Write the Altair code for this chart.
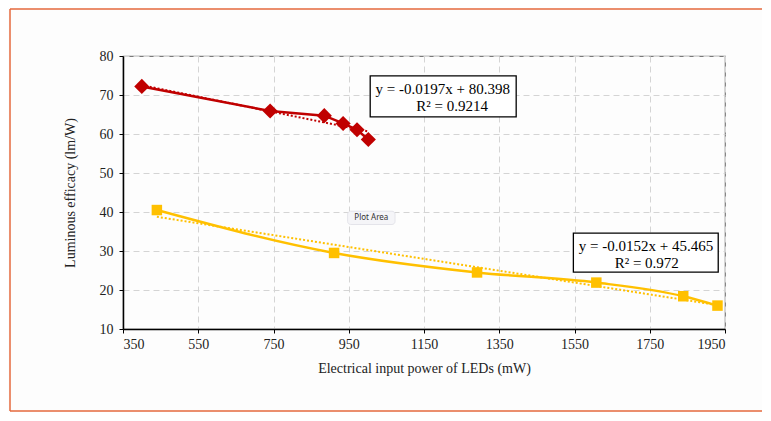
import altair as alt
import pandas as pd

# Data
red_x = [400, 741, 885, 935, 972, 1002]
red_y = [72.2, 65.9, 64.7, 62.7, 61.1, 58.6]
yel_x = [440, 911, 1291, 1608, 1839, 1930]
yel_y = [40.5, 29.5, 24.5, 21.9, 18.4, 16.0]

red_slope, red_icpt = -0.0197, 80.398
yel_slope, yel_icpt = -0.0152, 45.465

red_eq = ["y = -0.0197x + 80.398", "R² = 0.9214"]
yel_eq = ["y = -0.0152x + 45.465", "R² = 0.972"]

x_ticks = [350, 550, 750, 950, 1150, 1350, 1550, 1750, 1950]
y_ticks = [10, 20, 30, 40, 50, 60, 70, 80]

RED = "#C00000"
YEL = "#FFC000"
FONT = "Liberation Serif"

W, H = 602, 273
PL, PT = 115, 48
TOTW, TOTH = 754, 404

red_df = pd.DataFrame({"x": red_x, "y": red_y})
yel_df = pd.DataFrame({"x": yel_x, "y": yel_y})

red_tr = pd.DataFrame({"x": [min(red_x), max(red_x)]})
red_tr["y"] = red_slope * red_tr["x"] + red_icpt
yel_tr = pd.DataFrame({"x": [min(yel_x), max(yel_x)]})
yel_tr["y"] = yel_slope * yel_tr["x"] + yel_icpt

xs = alt.Scale(domain=[350, 1950], nice=False, zero=False)
ys = alt.Scale(domain=[10, 80], nice=False, zero=False)

x_axis = alt.Axis(
    values=x_ticks, title="Electrical input power of LEDs (mW)", format="d",
    grid=True, gridDash=[6, 4], gridColor="#d4d4d4", domainColor="black",
    domainWidth=1.5, tickColor="black", tickSize=4, labelFont=FONT, labelFontSize=14,
    labelColor="#222", titleFont=FONT, titleFontSize=14, titleFontWeight="normal",
    titleColor="#222", labelPadding=4, titlePadding=10, labelOverlap=False)
y_axis = alt.Axis(
    values=y_ticks, title="Luminous efficacy (lm/W)", format="d",
    grid=True, gridDash=[6, 4], gridColor="#d4d4d4", domainColor="black",
    domainWidth=1.5, tickColor="black", tickSize=4, labelFont=FONT, labelFontSize=14,
    labelColor="#222", titleFont=FONT, titleFontSize=14, titleFontWeight="normal",
    titleColor="#222", labelPadding=6, titlePadding=22, labelOverlap=False)


def XE(f="x:Q"):
    return alt.X(f, scale=xs, axis=x_axis)


def YE(f="y:Q"):
    return alt.Y(f, scale=ys, axis=y_axis)


BC = "#E5683C"
one = pd.DataFrame({"a": [0]})
border_top = alt.Chart(one).mark_rule(color=BC, strokeWidth=1.5, clip=False).encode(
    x=alt.value(-PL + 2), x2=alt.value(TOTW - PL + 20), y=alt.value(-PT + 1))
border_bot = alt.Chart(one).mark_rule(color=BC, strokeWidth=1.5, clip=False).encode(
    x=alt.value(-PL + 2), x2=alt.value(TOTW - PL + 20), y=alt.value(TOTH - PT - 1))
border_left = alt.Chart(one).mark_rule(color=BC, strokeWidth=1.5, clip=False).encode(
    x=alt.value(-PL + 2), y=alt.value(-PT + 1), y2=alt.value(TOTH - PT - 1))

red_line = alt.Chart(red_df).mark_line(color=RED, strokeWidth=2.5).encode(
    x=XE(), y=YE())
red_pts = alt.Chart(red_df).mark_point(shape="diamond", filled=True, color=RED,
                                       size=230, opacity=1).encode(x=XE(), y=YE())
red_trend = alt.Chart(red_tr).mark_line(color=RED, strokeWidth=2,
                                        strokeDash=[2, 2]).encode(x=XE(), y=YE())

yel_line = alt.Chart(yel_df).mark_line(color=YEL, strokeWidth=2.5,
                                       interpolate="monotone").encode(x=XE(), y=YE())
yel_pts = alt.Chart(yel_df).mark_point(shape="square", filled=True, color=YEL,
                                       size=110, opacity=1).encode(x=XE(), y=YE())
yel_trend = alt.Chart(yel_tr).mark_line(color=YEL, strokeWidth=2,
                                        strokeDash=[2, 2]).encode(x=XE(), y=YE())

# equation boxes (data coordinates)
boxes = pd.DataFrame({
    "x": [1007, 1547], "x2": [1395, 1932],
    "y": [74.9, 34.6], "y2": [64.4, 24.6],
})
box_marks = alt.Chart(boxes).mark_rect(fill="white", stroke="black",
                                       strokeWidth=1.3).encode(
    x=XE(), x2="x2:Q", y=YE(), y2="y2:Q")

labels = pd.DataFrame({
    "x": [1200, 1225, 1740, 1742],
    "y": [71.6, 67.3, 31.3, 26.9],
    "t": [red_eq[0], red_eq[1], yel_eq[0], yel_eq[1]],
})
label_marks = alt.Chart(labels).mark_text(font=FONT, fontSize=15, color="black",
                                          align="center", baseline="middle").encode(
    x=XE(), y=YE(), text="t:N")

# hover tooltip artifact "Plot Area"
tip = pd.DataFrame({"x": [1010], "y": [38.5], "x1": [947], "x2": [1073],
                    "y1": [40.2], "y2": [36.8], "t": ["Plot Area"]})
tip_box = alt.Chart(tip).mark_rect(fill="#f5f5f8", stroke="#e4e4ea",
                                   cornerRadius=3).encode(
    x=XE("x1:Q"), x2="x2:Q", y=YE("y1:Q"), y2="y2:Q")
tip_text = alt.Chart(tip).mark_text(font="Noto Sans", fontSize=8, color="#333",
                                    align="center", baseline="middle").encode(
    x=XE(), y=YE(), text="t:N")

chart = alt.layer(
    red_trend, border_top, border_bot, border_left, yel_trend,
    red_line, yel_line, red_pts, yel_pts, box_marks, label_marks, tip_box, tip_text
).properties(
    width=W, height=H,
    autosize=alt.AutoSizeParams(type="none"),
    padding={"left": PL, "top": PT, "right": TOTW - PL - W, "bottom": TOTH - PT - H},
    background="#fdfdfd",
).configure_view(stroke="#7a7a7a", strokeWidth=1.2).configure_axis(labelOverlap=False)

chart.save("out.html", embed_options={"renderer": "svg", "actions": False})
